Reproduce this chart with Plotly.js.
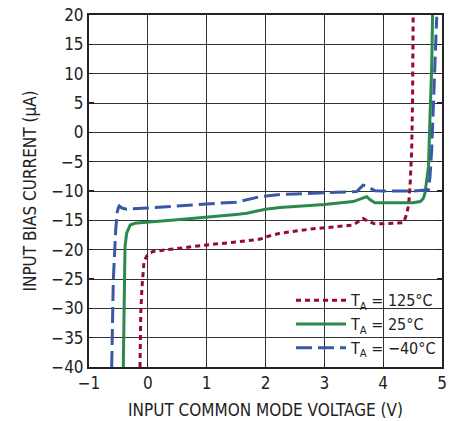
<!DOCTYPE html>
<html>
<head>
<meta charset="utf-8">
<script src="https://cdn.plot.ly/plotly-3.0.1.min.js"></script>
<style>html,body{margin:0;padding:0;background:#fff;}#chart{width:461px;height:421px;}</style>
</head>
<body>
<div id="chart"></div>
<script>
// T_A = 125°C
const x125 = [-0.133, -0.12, -0.10, -0.087, -0.065, -0.02, 0.03, 0.093, 0.5, 1.0, 1.5, 1.79, 1.91, 2.05, 2.25, 2.76, 3.27, 3.49, 3.58, 3.66, 3.75, 3.86, 4.0, 4.34, 4.38, 4.42, 4.44, 4.456, 4.485, 4.50, 4.51];
const y125 = [-40, -30.8, -26.5, -24.0, -22.05, -21.1, -20.6, -20.3, -19.8, -19.2, -18.7, -18.35, -18.2, -17.7, -17.2, -16.5, -16.1, -15.8, -15.2, -14.7, -15.2, -15.6, -15.6, -15.4, -14.5, -13.0, -11.5, -9.3, -3.0, 5.5, 20];
// T_A = 25°C
const x25 = [-0.417, -0.41, -0.40, -0.388, -0.36, -0.30, -0.22, -0.133, 0.5, 1.0, 1.5, 1.68, 1.8, 2.0, 2.25, 3.0, 3.49, 3.6, 3.66, 3.72, 3.78, 3.86, 4.0, 4.5, 4.63, 4.68, 4.71, 4.74, 4.77, 4.796, 4.825, 4.84];
const y25 = [-40, -32, -25.2, -19.5, -17.2, -15.8, -15.5, -15.4, -14.9, -14.5, -14.0, -13.8, -13.5, -13.1, -12.8, -12.3, -11.8, -11.4, -11.1, -10.97, -11.5, -12.0, -12.0, -12.0, -11.8, -11.3, -10.4, -8.5, -5.85, 2.67, 11.2, 20];
// T_A = -40°C
const xm40 = [-0.614, -0.60, -0.587, -0.546, -0.52, -0.50, -0.485, -0.44, -0.36, 0, 0.5, 1.0, 1.5, 1.68, 1.8, 1.907, 2.25, 3.04, 3.55, 3.6, 3.66, 3.72, 3.8, 3.86, 4.0, 4.5, 4.77, 4.796, 4.825, 4.853, 4.881, 4.91];
const ym40 = [-40, -33, -25.2, -16.6, -13.6, -12.8, -12.55, -12.9, -13.1, -12.9, -12.5, -12.2, -11.9, -11.5, -11.2, -10.97, -10.6, -10.3, -10.1, -9.6, -9.0, -9.2, -9.7, -9.94, -10.0, -10.0, -9.8, -7.56, -3.0, 5.5, 14.0, 19.7];

const names = ['T<sub>A</sub> = 125°C', 'T<sub>A</sub> = 25°C', 'T<sub>A</sub> = \u221240°C'];
const xTicks = [-1, 0, 1, 2, 3, 4, 5];
const yTicks = [-40, -35, -30, -25, -20, -15, -10, -5, 0, 5, 10, 15, 20];

const FONT = '"Liberation Sans Narrow", "DejaVu Sans Condensed", "Arial Narrow", sans-serif';

const traces = [
  {x: x125, y: y125, name: names[0], mode: 'lines', line: {color: '#990a2c', width: 3, dash: '5px,4px'}},
  {x: x25, y: y25, name: names[1], mode: 'lines', line: {color: '#2a8a4e', width: 3}},
  {x: xm40, y: ym40, name: names[2], mode: 'lines', line: {color: '#3a58a8', width: 3, dash: '16px,6px'}}
];

const axisCommon = {
  showgrid: true, gridcolor: '#333', gridwidth: 1,
  showline: true, linecolor: '#222', linewidth: 2, mirror: 'ticks',
  ticks: 'inside', ticklen: 5, tickcolor: '#222', tickwidth: 1.3,
  zeroline: false, tickfont: {family: FONT, size: 17, color: '#222'}
};

const layout = {
  width: 461, height: 421,
  margin: {l: 89, r: 19, t: 15, b: 54},
  paper_bgcolor: '#fff', plot_bgcolor: '#fff',
  showlegend: true,
  legend: {x: 1, y: 0.005, xanchor: 'right', yanchor: 'bottom', bgcolor: 'rgba(0,0,0,0)',
    font: {family: FONT, size: 16, color: '#222'}, itemwidth: 50, tracegroupgap: 0},
  xaxis: Object.assign({}, axisCommon, {range: [-1, 5], tickvals: xTicks, ticktext: xTicks.map(v => v < 0 ? '\u2212' + Math.abs(v) : String(v)),
    title: {text: 'INPUT COMMON MODE VOLTAGE (V)', font: {family: FONT, size: 17, color: '#222'}, standoff: 12}}),
  yaxis: Object.assign({}, axisCommon, {range: [-40, 20], tickvals: yTicks, ticktext: yTicks.map(v => v < 0 ? '\u2212' + Math.abs(v) : String(v)),
    title: {text: 'INPUT BIAS CURRENT (\u03bcA)', font: {family: FONT, size: 17, color: '#222'}, standoff: 10}}),
  shapes: [{type: 'rect', xref: 'paper', yref: 'paper', x0: 0.557, x1: 1, y0: 0, y1: 0.21,
    fillcolor: '#fff', line: {width: 0}, layer: 'between'}]
};

Plotly.newPlot('chart', traces, layout, {displayModeBar: false, staticPlot: true});
</script>
</body>
</html>
